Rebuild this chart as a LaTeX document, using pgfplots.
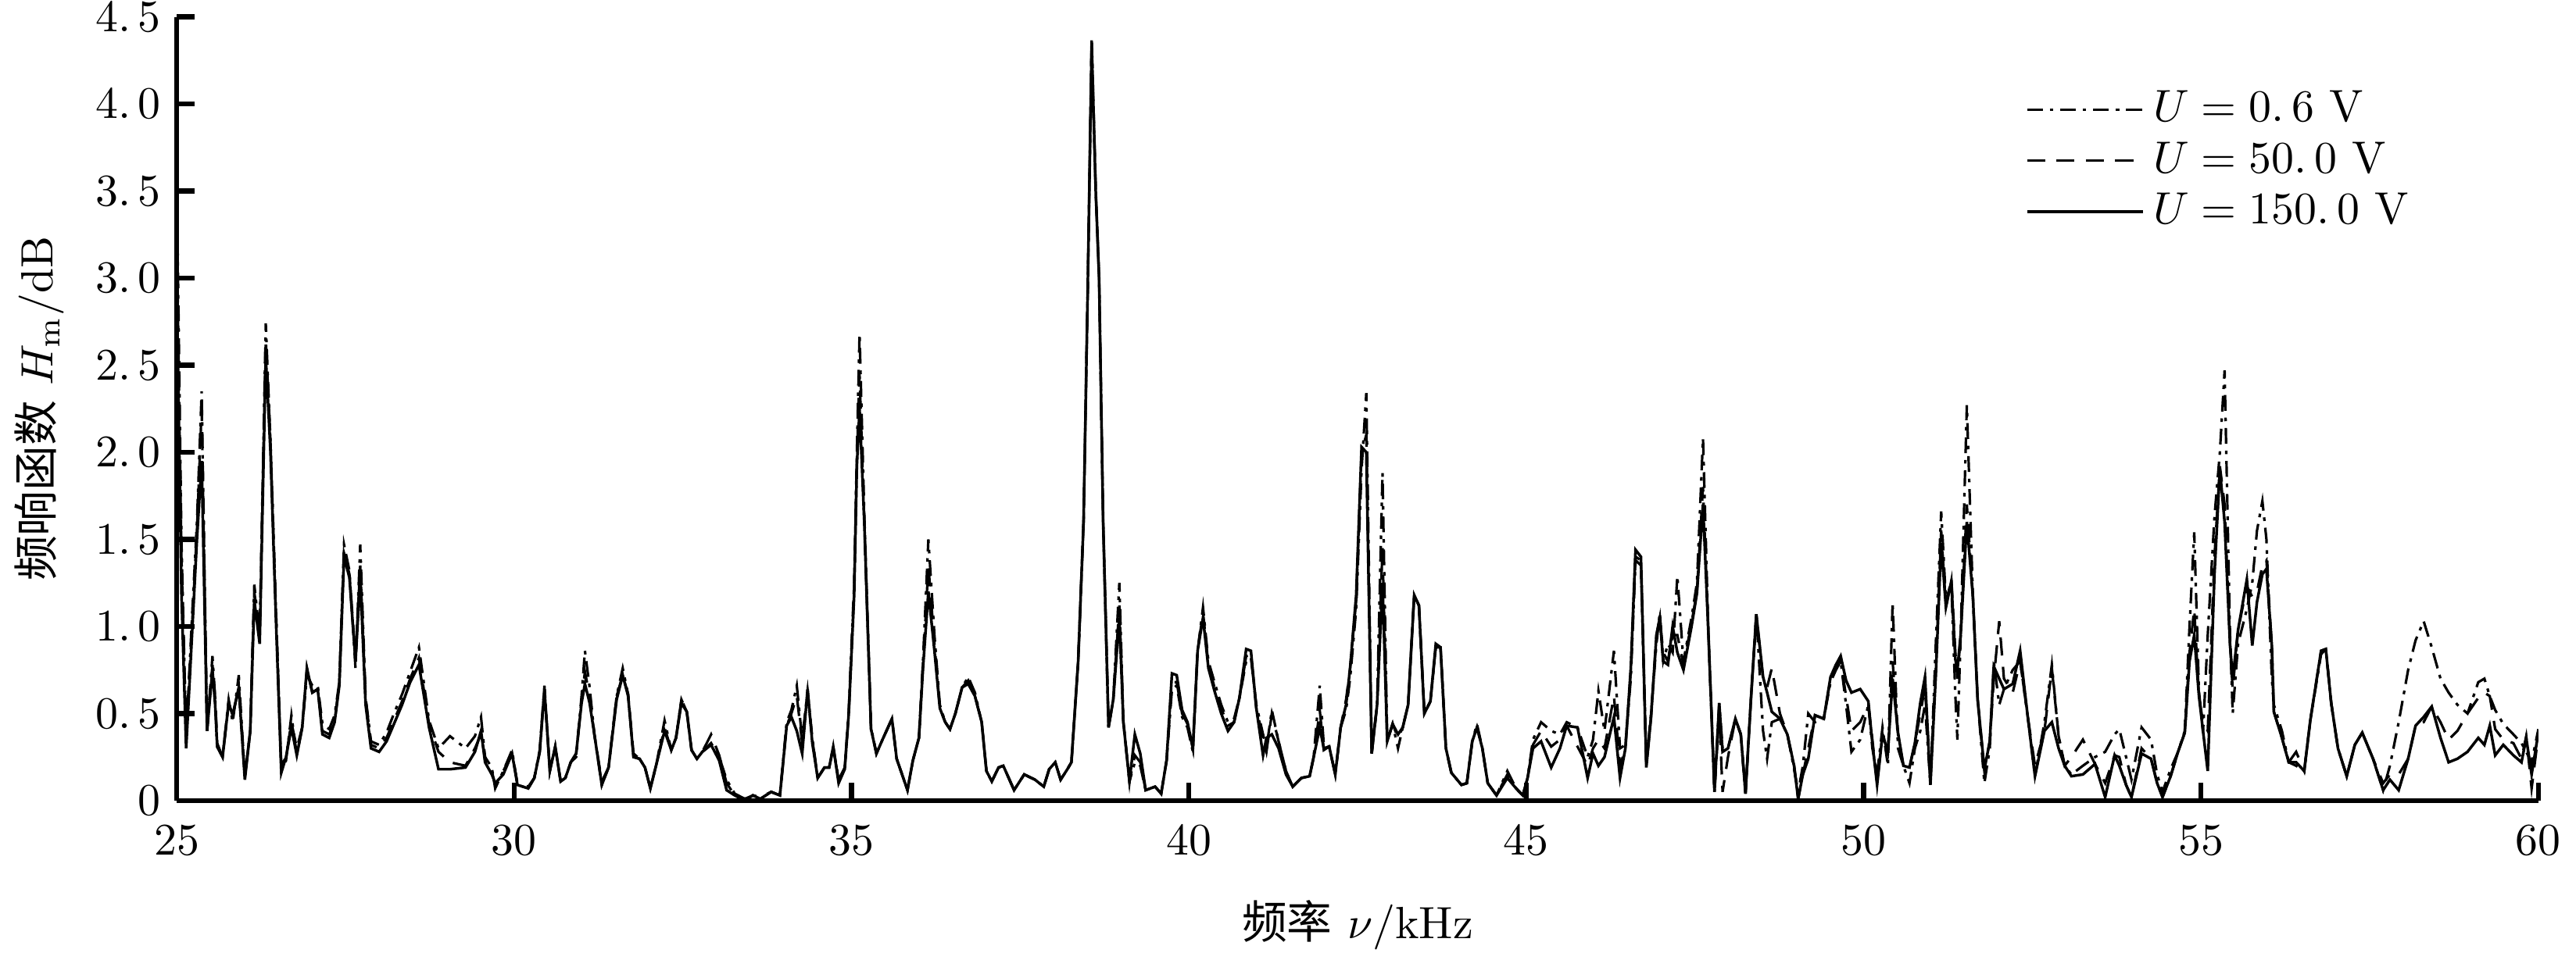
\documentclass[border=0pt]{standalone}
\usepackage{fontspec}
\newfontfamily\cjk{Noto Sans CJK SC}
\usepackage{pgfplots}
\usepackage{pgfplotstable}
\pgfplotsset{compat=1.18}
\pgfplotstableread{
x a b c
25.00 3.60 3.30 3.00
25.07 1.50 1.40 1.20
25.14 0.35 0.40 0.30
25.22 1.00 0.95 0.90
25.30 1.60 1.55 1.50
25.37 2.35 2.25 1.95
25.45 0.40 0.40 0.40
25.53 0.83 0.78 0.75
25.57 0.59 0.59 0.55
25.60 0.31 0.33 0.31
25.68 0.25 0.25 0.25
25.77 0.58 0.56 0.56
25.83 0.45 0.49 0.49
25.92 0.72 0.65 0.65
26.01 0.14 0.14 0.12
26.09 0.40 0.40 0.40
26.15 1.24 1.20 1.15
26.23 0.95 0.95 0.90
26.32 2.74 2.65 2.55
26.39 2.06 2.06 2.00
26.47 1.10 1.10 1.05
26.55 0.18 0.20 0.16
26.62 0.23 0.25 0.25
26.70 0.49 0.45 0.42
26.78 0.26 0.30 0.26
26.86 0.42 0.42 0.42
26.93 0.72 0.76 0.76
27.01 0.66 0.62 0.62
27.09 0.66 0.64 0.64
27.16 0.44 0.40 0.38
27.26 0.41 0.38 0.36
27.34 0.49 0.45 0.45
27.41 0.68 0.68 0.66
27.48 1.47 1.42 1.40
27.56 1.32 1.30 1.28
27.65 0.76 0.82 0.80
27.72 1.47 1.35 1.28
27.80 0.59 0.59 0.55
27.88 0.34 0.32 0.30
28.00 0.32 0.30 0.28
28.11 0.39 0.36 0.34
28.22 0.50 0.46 0.44
28.34 0.61 0.57 0.55
28.46 0.74 0.70 0.68
28.59 0.88 0.82 0.78
28.74 0.46 0.44 0.42
28.88 0.30 0.28 0.18
29.05 0.37 0.22 0.18
29.28 0.30 0.20 0.19
29.42 0.37 0.30 0.28
29.51 0.48 0.38 0.40
29.57 0.25 0.25 0.22
29.67 0.19 0.17 0.15
29.72 0.07 0.09 0.10
29.84 0.17 0.17 0.15
29.97 0.29 0.27 0.27
30.05 0.09 0.10 0.09
30.21 0.07 0.08 0.07
30.30 0.13 0.13 0.13
30.38 0.29 0.28 0.28
30.45 0.66 0.64 0.64
30.53 0.17 0.17 0.17
30.61 0.31 0.31 0.31
30.69 0.11 0.11 0.11
30.76 0.13 0.13 0.13
30.84 0.22 0.22 0.22
30.92 0.25 0.27 0.27
31.00 0.60 0.58 0.56
31.05 0.86 0.74 0.67
31.12 0.65 0.60 0.56
31.19 0.38 0.38 0.38
31.30 0.09 0.11 0.09
31.40 0.19 0.19 0.19
31.52 0.60 0.60 0.58
31.61 0.76 0.72 0.72
31.69 0.61 0.61 0.60
31.77 0.25 0.27 0.25
31.86 0.24 0.24 0.24
31.94 0.19 0.19 0.19
32.02 0.07 0.07 0.07
32.11 0.21 0.21 0.21
32.23 0.46 0.42 0.40
32.33 0.29 0.29 0.29
32.40 0.36 0.36 0.36
32.48 0.58 0.58 0.56
32.56 0.51 0.51 0.51
32.63 0.29 0.29 0.29
32.71 0.24 0.24 0.24
32.79 0.28 0.28 0.28
32.92 0.33 0.38 0.32
33.04 0.25 0.26 0.23
33.15 0.12 0.10 0.06
33.27 0.04 0.03 0.03
33.42 0.01 0.01 0.00
33.54 0.03 0.03 0.03
33.65 0.01 0.02 0.01
33.81 0.05 0.05 0.05
33.94 0.03 0.03 0.03
34.04 0.45 0.43 0.43
34.11 0.52 0.50 0.48
34.19 0.66 0.60 0.40
34.27 0.35 0.33 0.27
34.35 0.63 0.62 0.64
34.42 0.36 0.35 0.33
34.50 0.13 0.13 0.13
34.60 0.19 0.19 0.19
34.67 0.19 0.19 0.19
34.73 0.31 0.30 0.31
34.81 0.12 0.12 0.10
34.90 0.19 0.18 0.18
34.96 0.52 0.50 0.50
35.04 1.25 1.20 1.18
35.08 2.00 1.95 1.92
35.12 2.68 2.45 2.25
35.19 1.65 1.60 1.60
35.29 0.42 0.41 0.41
35.37 0.27 0.27 0.27
35.46 0.35 0.35 0.35
35.60 0.47 0.47 0.47
35.67 0.24 0.24 0.24
35.83 0.06 0.06 0.06
35.91 0.23 0.23 0.23
36.00 0.36 0.36 0.36
36.06 0.80 0.78 0.76
36.14 1.50 1.35 1.20
36.23 0.95 0.90 0.86
36.31 0.55 0.53 0.53
36.39 0.45 0.45 0.45
36.46 0.41 0.41 0.41
36.54 0.50 0.50 0.50
36.64 0.65 0.65 0.65
36.73 0.71 0.69 0.67
36.83 0.62 0.60 0.60
36.93 0.45 0.45 0.45
37.00 0.17 0.17 0.17
37.08 0.11 0.11 0.11
37.18 0.19 0.19 0.19
37.25 0.20 0.20 0.20
37.41 0.06 0.06 0.06
37.56 0.15 0.15 0.15
37.72 0.12 0.12 0.12
37.85 0.08 0.08 0.08
37.93 0.18 0.18 0.18
38.02 0.22 0.22 0.22
38.10 0.12 0.12 0.12
38.20 0.18 0.18 0.18
38.26 0.22 0.22 0.22
38.36 0.80 0.80 0.80
38.44 1.60 1.60 1.60
38.50 2.90 2.90 2.90
38.56 4.38 4.35 4.35
38.62 3.50 3.50 3.50
38.67 3.00 3.00 3.00
38.73 1.60 1.60 1.60
38.81 0.42 0.42 0.42
38.88 0.58 0.58 0.58
38.97 1.25 1.12 1.05
39.03 0.45 0.45 0.45
39.12 0.11 0.11 0.11
39.20 0.22 0.26 0.38
39.28 0.20 0.22 0.27
39.36 0.06 0.06 0.06
39.50 0.08 0.08 0.08
39.59 0.04 0.04 0.04
39.67 0.23 0.23 0.23
39.75 0.64 0.68 0.73
39.82 0.66 0.68 0.72
39.90 0.48 0.50 0.52
39.98 0.42 0.44 0.45
40.06 0.28 0.30 0.30
40.13 0.86 0.86 0.86
40.21 1.11 1.08 1.05
40.29 0.80 0.78 0.76
40.38 0.68 0.65 0.63
40.48 0.55 0.53 0.50
40.58 0.45 0.43 0.40
40.67 0.47 0.45 0.45
40.75 0.59 0.59 0.59
40.85 0.80 0.83 0.87
40.92 0.82 0.84 0.86
41.00 0.55 0.53 0.53
41.10 0.38 0.36 0.26
41.15 0.30 0.28 0.36
41.23 0.52 0.50 0.38
41.33 0.34 0.34 0.30
41.44 0.17 0.17 0.15
41.54 0.08 0.08 0.08
41.67 0.13 0.13 0.13
41.79 0.14 0.14 0.14
41.85 0.25 0.25 0.25
41.94 0.66 0.52 0.42
42.00 0.32 0.29 0.30
42.08 0.31 0.31 0.31
42.17 0.15 0.15 0.15
42.25 0.42 0.42 0.42
42.33 0.52 0.58 0.55
42.39 0.70 0.76 0.76
42.48 1.10 1.15 1.18
42.56 1.90 2.00 2.03
42.63 2.34 2.10 2.00
42.71 0.27 0.27 0.27
42.79 0.55 0.55 0.55
42.87 1.88 1.45 1.25
42.94 0.34 0.34 0.34
43.02 0.44 0.44 0.44
43.10 0.30 0.36 0.38
43.17 0.42 0.42 0.42
43.25 0.55 0.55 0.55
43.34 1.18 1.18 1.18
43.41 1.12 1.12 1.12
43.49 0.50 0.50 0.50
43.58 0.57 0.57 0.57
43.66 0.88 0.88 0.90
43.73 0.88 0.88 0.88
43.81 0.30 0.30 0.30
43.89 0.16 0.16 0.16
44.04 0.09 0.09 0.09
44.12 0.10 0.10 0.10
44.20 0.34 0.34 0.34
44.27 0.44 0.42 0.42
44.35 0.30 0.30 0.30
44.43 0.10 0.10 0.10
44.56 0.03 0.03 0.03
44.72 0.17 0.15 0.13
44.85 0.07 0.07 0.07
44.95 0.03 0.03 0.03
45.02 0.13 0.13 0.13
45.10 0.35 0.32 0.30
45.22 0.45 0.40 0.34
45.37 0.40 0.31 0.19
45.50 0.38 0.35 0.30
45.60 0.45 0.43 0.43
45.76 0.42 0.31 0.42
45.91 0.25 0.20 0.13
45.99 0.35 0.30 0.27
46.07 0.63 0.35 0.20
46.16 0.40 0.30 0.25
46.30 0.86 0.60 0.48
46.39 0.30 0.20 0.13
46.47 0.32 0.30 0.30
46.55 0.70 0.75 0.76
46.62 1.38 1.40 1.44
46.70 1.35 1.38 1.40
46.78 0.22 0.20 0.19
46.85 0.50 0.48 0.48
46.93 0.90 0.95 0.95
46.98 1.08 1.05 1.05
47.03 0.80 0.85 0.80
47.10 0.90 0.80 0.78
47.17 0.85 0.95 1.00
47.24 1.29 0.95 0.85
47.33 0.80 0.78 0.75
47.45 1.05 1.02 1.00
47.53 1.25 1.20 1.19
47.62 2.08 1.80 1.70
47.70 0.96 0.96 0.96
47.79 0.05 0.05 0.05
47.86 0.56 0.50 0.56
47.91 0.30 0.05 0.28
47.99 0.30 0.25 0.30
48.10 0.47 0.47 0.47
48.18 0.38 0.38 0.38
48.25 0.04 0.04 0.04
48.33 0.58 0.58 0.58
48.41 1.07 1.07 1.07
48.51 0.40 0.70 0.71
48.57 0.24 0.65 0.62
48.64 0.45 0.76 0.51
48.76 0.47 0.50 0.47
48.87 0.38 0.38 0.38
48.97 0.18 0.20 0.20
49.03 0.05 0.01 0.01
49.10 0.20 0.15 0.15
49.18 0.50 0.30 0.24
49.28 0.45 0.49 0.49
49.41 0.47 0.47 0.47
49.51 0.68 0.70 0.71
49.59 0.75 0.78 0.78
49.66 0.80 0.80 0.83
49.74 0.55 0.60 0.69
49.82 0.28 0.40 0.62
49.95 0.35 0.45 0.64
50.07 0.55 0.55 0.57
50.13 0.30 0.35 0.33
50.20 0.15 0.10 0.09
50.28 0.42 0.38 0.38
50.36 0.20 0.28 0.28
50.43 1.14 0.80 0.70
50.51 0.30 0.38 0.39
50.59 0.20 0.20 0.20
50.68 0.10 0.19 0.19
50.76 0.30 0.33 0.33
50.84 0.40 0.50 0.56
50.91 0.55 0.65 0.71
50.99 0.09 0.12 0.09
51.07 0.90 0.75 0.72
51.15 1.66 1.55 1.48
51.22 1.15 1.11 1.11
51.30 1.25 1.28 1.26
51.36 0.60 0.85 0.81
51.39 0.35 0.70 0.75
51.44 0.96 0.96 0.96
51.53 2.27 1.70 1.60
51.62 1.17 1.17 1.17
51.69 0.58 0.58 0.58
51.79 0.10 0.18 0.18
51.87 0.30 0.34 0.34
51.93 0.80 0.70 0.77
52.01 0.55 1.03 0.70
52.08 0.64 0.70 0.64
52.21 0.75 0.62 0.67
52.32 0.80 0.80 0.86
52.43 0.49 0.49 0.49
52.54 0.14 0.20 0.14
52.68 0.45 0.40 0.40
52.79 0.78 0.76 0.45
52.89 0.37 0.37 0.30
52.98 0.20 0.20 0.20
53.08 0.15 0.25 0.14
53.25 0.20 0.35 0.15
53.43 0.25 0.21 0.21
53.58 0.28 0.10 0.02
53.72 0.38 0.26 0.26
53.79 0.41 0.25 0.20
53.89 0.25 0.09 0.09
53.97 0.12 0.02 0.02
54.12 0.42 0.30 0.27
54.26 0.35 0.24 0.24
54.35 0.15 0.10 0.10
54.43 0.05 0.02 0.02
54.55 0.18 0.14 0.14
54.66 0.28 0.28 0.28
54.76 0.40 0.39 0.39
54.83 1.00 0.85 0.80
54.90 1.54 1.10 0.95
54.97 0.63 0.60 0.60
55.03 0.39 0.45 0.40
55.10 0.95 0.40 0.17
55.20 1.63 1.40 1.30
55.28 2.00 1.92 1.90
55.35 2.47 1.70 1.60
55.43 0.96 0.90 0.90
55.47 0.50 0.64 0.70
55.55 0.90 0.98 0.98
55.68 1.10 1.23 1.27
55.76 1.25 1.17 0.89
55.83 1.55 1.20 1.14
55.91 1.72 1.35 1.30
55.97 1.50 1.38 1.33
56.05 0.70 0.89 0.89
56.08 0.55 0.51 0.51
56.20 0.40 0.36 0.36
56.30 0.22 0.22 0.22
56.41 0.20 0.28 0.22
56.53 0.17 0.17 0.17
56.62 0.46 0.46 0.46
56.78 0.84 0.86 0.86
56.85 0.87 0.87 0.87
56.93 0.56 0.56 0.56
57.03 0.30 0.30 0.30
57.16 0.14 0.14 0.14
57.28 0.32 0.32 0.32
57.39 0.39 0.39 0.39
57.55 0.24 0.24 0.24
57.70 0.06 0.10 0.06
57.80 0.20 0.15 0.12
57.93 0.45 0.15 0.06
58.07 0.75 0.24 0.24
58.18 0.92 0.43 0.43
58.30 1.03 0.45 0.48
58.42 0.88 0.54 0.54
58.55 0.70 0.45 0.36
58.67 0.62 0.35 0.22
58.80 0.55 0.40 0.24
58.95 0.50 0.50 0.28
59.11 0.68 0.59 0.36
59.20 0.70 0.62 0.32
59.28 0.60 0.60 0.43
59.36 0.52 0.41 0.26
59.48 0.44 0.35 0.32
59.63 0.38 0.33 0.26
59.75 0.33 0.24 0.22
59.82 0.28 0.37 0.36
59.90 0.22 0.07 0.15
60.00 0.41 0.38 0.39
}\datatable

\begin{document}
\begin{tikzpicture}
\begin{axis}[
  scale only axis,
  width=18.37cm, height=6.10cm,
  xmin=25, xmax=60, ymin=0, ymax=4.5,
  axis x line=bottom, axis y line=left,
  axis line style={-, line width=1.1pt},
  tick align=inside,
  major tick length=0.14cm,
  tick style={line width=1.1pt, black},
  xtick={25,30,35,40,45,50,55,60},
  ytick={0,0.5,1,1.5,2,2.5,3,3.5,4,4.5},
  yticklabels={$0$,$0.\,5$,$1.\,0$,$1.\,5$,$2.\,0$,$2.\,5$,$3.\,0$,$3.\,5$,$4.\,0$,$4.\,5$},
  yticklabel style={inner ysep=0.5pt},
  xticklabel style={yshift=-2pt},
  xlabel={{\cjk 频率}\ $\nu/\mathrm{kHz}$},
  ylabel={{\cjk 频响函数}\ $H_{\mathrm{m}}/\mathrm{dB}$},
  xlabel style={at={(axis description cs:0.5,-0.159)}, anchor=center, inner sep=0.5pt},
  ylabel style={at={(axis description cs:-0.058,0.5)}, anchor=center},
  legend style={at={(0.955,0.93)}, anchor=north east, draw=none, fill=none,
    row sep=-1pt, font=\normalsize},
  legend cell align=left,
  legend image code/.code={\draw[#1] (0cm,0cm) -- (0.9cm,0cm);},
]
\addplot[black, line width=0.55pt, dash pattern=on 3.5pt off 1.5pt on 0.8pt off 1.5pt] table[x=x, y=a] {\datatable};
\addlegendentry{$U=0.\,6\ \mathrm{V}$}
\addplot[black, line width=0.55pt, dash pattern=on 4pt off 2.5pt] table[x=x, y=b] {\datatable};
\addlegendentry{$U=50.\,0\ \mathrm{V}$}
\addplot[black, line width=0.6pt] table[x=x, y=c] {\datatable};
\addlegendentry{$U=150.\,0\ \mathrm{V}$}
\end{axis}
\end{tikzpicture}
\end{document}
